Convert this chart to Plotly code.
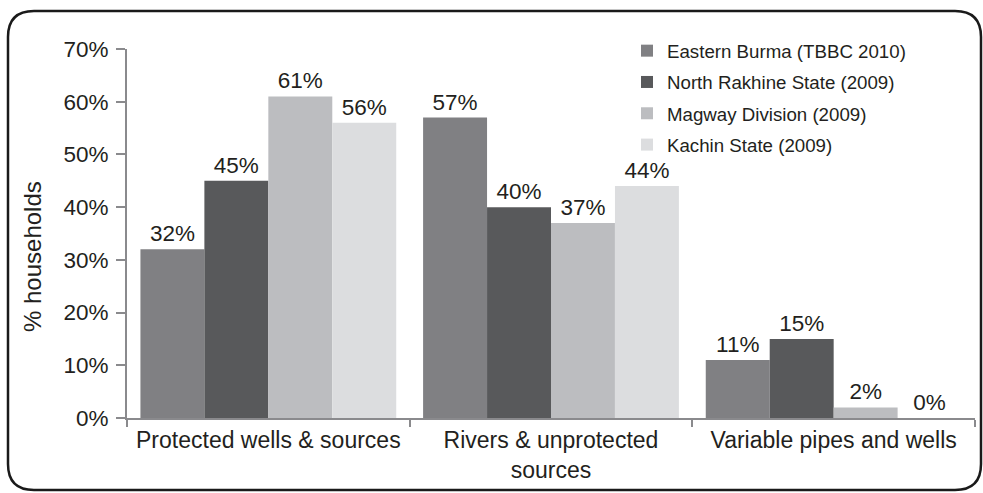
import plotly.graph_objects as go

# Source categories and survey series (% of households)
categories = ["Protected wells & sources", "Rivers & unprotected<br>sources", "Variable pipes and wells"]
series_names = ["Eastern Burma (TBBC 2010)", "North Rakhine State (2009)",
                "Magway Division (2009)", "Kachin State (2009)"]
eastern_burma = [32, 57, 11]
north_rakhine = [45, 40, 15]
magway = [61, 37, 2]
kachin = [56, 44, 0]
series_values = [eastern_burma, north_rakhine, magway, kachin]
series_colors = ["#808083", "#58595b", "#bcbdc0", "#dcdddf"]
y_ticks = [0, 10, 20, 30, 40, 50, 60, 70]

W, H = 983, 493
ML, MR, MT, MB = 127, 8, 49, 75
PW, PH = W - ML - MR, H - MT - MB

TEXT = "#231f20"
AXIS = "#8a8a8d"
FONT = "Liberation Sans, Arial, sans-serif"

fig = go.Figure()
for i, (name, vals, col) in enumerate(zip(series_names, series_values, series_colors)):
    fig.add_trace(go.Bar(
        name=name, x=categories, y=vals,
        marker=dict(color=col, line=dict(width=0)),
        text=[f"{v}%" for v in vals], textposition="outside",
        textfont=dict(size=22.5, color=TEXT, family=FONT),
        cliponaxis=False, legendgroup=f"g{i}",
    ))


def px(x):
    return (x - ML) / PW


def py(y):
    return (H - MB - y) / PH


# Rounded frame around the whole figure
x0, x1, y0, y1, r = 8, 981, 11, 490, 26
frame = (
    f"M {px(x0 + r)} {py(y0)} L {px(x1 - r)} {py(y0)} "
    f"Q {px(x1)} {py(y0)} {px(x1)} {py(y0 + r)} "
    f"L {px(x1)} {py(y1 - r)} Q {px(x1)} {py(y1)} {px(x1 - r)} {py(y1)} "
    f"L {px(x0 + r)} {py(y1)} Q {px(x0)} {py(y1)} {px(x0)} {py(y1 - r)} "
    f"L {px(x0)} {py(y0 + r)} Q {px(x0)} {py(y0)} {px(x0 + r)} {py(y0)} Z"
)

fig.update_layout(
    width=W, height=H,
    margin=dict(l=ML, r=MR, t=MT, b=MB),
    paper_bgcolor="white", plot_bgcolor="white",
    barmode="group", bargap=0.095, bargroupgap=0,
    font=dict(family=FONT, color=TEXT, size=22),
    shapes=[dict(type="path", path=frame, xref="paper", yref="paper",
                 line=dict(color="#1a1a1a", width=2.5), layer="above")],
    annotations=[dict(
        text="% households", textangle=-90, showarrow=False,
        xref="paper", yref="paper", x=px(32), y=py(257),
        xanchor="center", yanchor="middle",
        font=dict(size=24, color=TEXT, family=FONT),
    )],
    legend=dict(
        x=px(627), y=py(32), xanchor="left", yanchor="top",
        font=dict(size=18.7, color=TEXT, family=FONT),
        bgcolor="rgba(0,0,0,0)", traceorder="grouped", tracegroupgap=4,
        itemclick=False,
    ),
    showlegend=True,
)

fig.update_yaxes(
    range=[0, 70], tickvals=y_ticks, ticktext=[f"{v}%" for v in y_ticks],
    showgrid=False, zeroline=False,
    showline=True, linecolor=AXIS, linewidth=2,
    ticks="outside", ticklen=9, tickcolor=AXIS, tickwidth=1.5,
    ticklabelstandoff=3,
    tickfont=dict(size=22.5, color=TEXT),
)
fig.update_xaxes(
    showgrid=False, showline=True, linecolor=AXIS, linewidth=2,
    ticks="outside", tickson="boundaries", ticklen=7, tickcolor=AXIS, tickwidth=1.5,
    tickfont=dict(size=23, color=TEXT),
)

fig.write_html("out.html")
